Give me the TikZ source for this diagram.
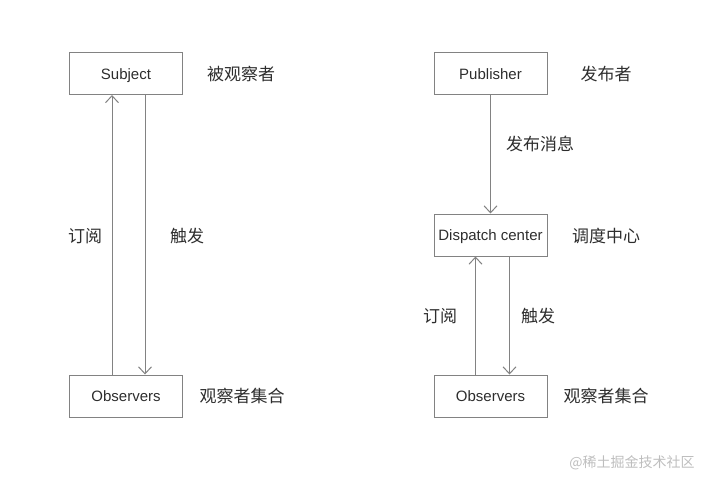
\documentclass[tikz,border=0pt]{standalone}
\usepackage{fontspec}
\setmainfont{Liberation Sans}
\newfontfamily\cjk{Noto Sans CJK SC}
\usetikzlibrary{arrows.meta}
\definecolor{linegray}{RGB}{130,130,130}
\definecolor{textgray}{RGB}{45,45,45}
\definecolor{markgray}{RGB}{190,190,190}
\begin{document}
\begin{tikzpicture}[x=1pt,y=-1pt,
	box/.style={draw=linegray,line width=1pt,minimum width=113pt,minimum height=42pt,inner sep=0pt,text height=13pt,text depth=2pt,text=textgray,font=\fontsize{15}{18}\selectfont},
	lbl/.style={text=textgray,font=\fontsize{17}{20}\selectfont\cjk},
	link/.style={draw=linegray,line width=1pt,-{Straight Barb[length=7pt,width=13pt,line width=1pt]}}]
	\useasboundingbox (0,0) rectangle (702,477);
	% left: subject and observers
	\node[box] (subj) at (126,73.5) {Subject};
	\node[box] (obsL) at (126,396) {Observers};
	\draw[link] ([xshift=-14pt]obsL.north) -- ([xshift=-14pt]subj.south);
	\draw[link] ([xshift=19pt]subj.south) -- ([xshift=19pt]obsL.north);
	\node[lbl] (subjtxt) at (241,74) {被观察者};
	\node[lbl] (obsLtxt) at (242,396) {观察者集合};
	\node[lbl] (subL) at (85,236) {订阅};
	\node[lbl] (trigL) at (187,236) {触发};
	% right: publisher, dispatch center and observers
	\node[box] (pub) at (490.5,73.5) {Publisher};
	\node[box] (disp) at (490.5,235) {Dispatch center};
	\node[box] (obsR) at (490.5,396) {Observers};
	\draw[link] (pub) -- (disp);
	\draw[link] ([xshift=-15pt]obsR.north) -- ([xshift=-15pt]disp.south);
	\draw[link] ([xshift=19pt]disp.south) -- ([xshift=19pt]obsR.north);
	\node[lbl] (pubtxt) at (606,74) {发布者};
	\node[lbl] (msg) at (540,144) {发布消息};
	\node[lbl] (disptxt) at (606,236) {调度中心};
	\node[lbl] (obsRtxt) at (606,396) {观察者集合};
	\node[lbl] (subR) at (440,316) {订阅};
	\node[lbl] (trigR) at (538,316) {触发};
	\node[text=markgray,font=\fontsize{14}{16}\selectfont\cjk] (mark) at (632,463) {@稀土掘金技术社区};
\end{tikzpicture}
\end{document}
